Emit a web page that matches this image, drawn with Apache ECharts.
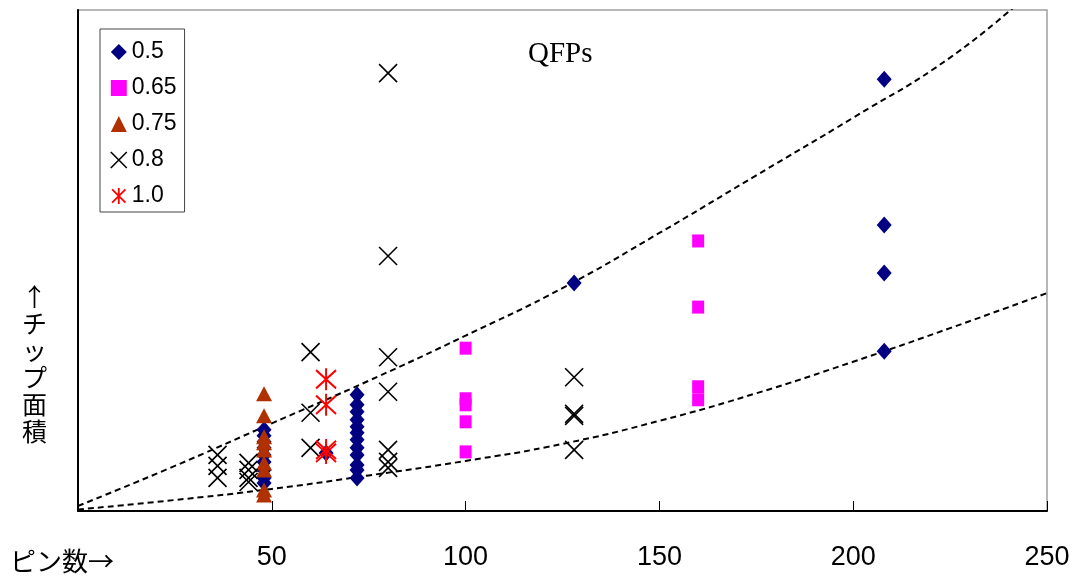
<!DOCTYPE html>
<html>
<head>
<meta charset="utf-8">
<script src="https://cdn.jsdelivr.net/npm/echarts@6/dist/echarts.min.js"></script>
<style>html,body{margin:0;padding:0;background:#fff}#c{width:1075px;height:582px}</style>
</head>
<body>
<div id="c"></div>
<script>
// ---- data (x = pin count, y = relative chip area) ----
const xTicks = [50, 100, 150, 200, 250];
const seriesNames = ['0.5', '0.65', '0.75', '0.8', '1.0'];

const pitch05 = [
  [48,16.2],[48,15.0],[48,13.8],[48,12.6],[48,11.2],[48,9.8],[48,8.2],[48,6.6],[48,5.6],
  [64,11.6],
  [72,23.2],[72,21.2],[72,19.8],[72,18.2],[72,16.8],[72,15.6],[72,14.2],[72,12.6],[72,11.2],[72,9.2],[72,8.2],[72,6.6],
  [128,45.5],
  [208,86.2],[208,57.1],[208,47.5],[208,31.9]
];
const pitch065 = [
  [100,32.5],[100,22.4],[100,21.2],[100,17.8],[100,11.8],
  [160,53.9],[160,40.7],[160,24.8],[160,22.2]
];
const pitch075 = [
  [48,23.4],[48,19.0],[48,14.8],[48,13.6],[48,12.2],[48,9.6],[48,8.2],[48,4.2],[48,3.2]
];
const pitch08 = [
  [36,11.2],[36,9.0],[36,6.6],
  [44,9.6],[44,8.2],[44,6.6],[44,5.8],
  [60,31.7],[60,19.6],[60,12.6],
  [80,87.4],[80,50.9],[80,30.7],[80,23.8],[80,12.2],[80,9.8],[80,8.6],
  [128,26.7],[128,19.4],[128,19.0],[128,12.2]
];
const pitch10 = [
  [64,26.3],[64,21.2],[64,12.2],[64,11.6]
];
// dashed guide curves
const upperCurve = [[0,1],[25,9],[50,17.5],[75,26],[100,35],[125,44.5],[150,55.5],[175,67],[200,78.5],[225,90.5],[245,103]];
const lowerCurve = [[0,0.3],[25,2.2],[50,4.4],[75,7.1],[100,10],[125,13.4],[150,18],[175,23.5],[200,29.8],[225,36.5],[250,43.5]];

// ---- chart ----
const X_PATH = 'path://M0,0L20,20M20,0L0,20';
const AST_PATH = 'path://M0,0L20,20M20,0L0,20M10,-2L10,22';

const chart = echarts.init(document.getElementById('c'), null, {renderer: 'canvas'});

const dashStyle = {color: '#000', width: 2, type: [6, 4]};

chart.setOption({
  animation: false,
  backgroundColor: '#fff',
  grid: {left: 78, right: 28, top: 10, bottom: 71, show: true, borderColor: '#a0a0a0', borderWidth: 1.5, backgroundColor: 'transparent'},
  xAxis: {
    type: 'value', min: 0, max: 250, interval: 50,
    axisLine: {show: true, onZero: false, lineStyle: {color: '#000', width: 2}},
    axisTick: {show: true, inside: true, length: 10, lineStyle: {color: '#000', width: 1}},
    splitLine: {show: false},
    axisLabel: {
      showMinLabel: false, margin: 33, color: '#000', fontSize: 27,
      fontFamily: 'Liberation Sans, Arial, sans-serif',
      formatter: function (v) { return xTicks.indexOf(v) >= 0 ? String(v) : ''; }
    }
  },
  yAxis: {
    type: 'value', min: 0, max: 100,
    axisLine: {show: true, onZero: false, lineStyle: {color: '#000', width: 2}},
    axisTick: {show: false}, axisLabel: {show: false}, splitLine: {show: false}
  },
  legend: {
    orient: 'vertical', left: 100, top: 29,
    padding: [11, 8, 4, 10], itemGap: 12,
    itemWidth: 16, itemHeight: 16,
    borderColor: '#444', borderWidth: 1, backgroundColor: '#fff',
    textStyle: {fontSize: 23, lineHeight: 24, color: '#000', fontFamily: 'Liberation Sans, Arial, sans-serif'},
    data: [
      {name: '0.5', icon: 'diamond', itemStyle: {color: '#000080'}},
      {name: '0.65', icon: 'rect', itemStyle: {color: '#ff00ff'}},
      {name: '0.75', icon: 'triangle', itemStyle: {color: '#b03000'}},
      {name: '0.8', icon: X_PATH, itemStyle: {color: 'transparent', borderColor: '#000', borderWidth: 1.6}},
      {name: '1.0', icon: AST_PATH, itemStyle: {color: 'transparent', borderColor: '#ff0000', borderWidth: 1.8}}
    ]
  },
  graphic: [
    {type: 'text', left: 528, top: 40, style: {text: 'QFPs', font: '29px "Liberation Serif", "Times New Roman", serif', fill: '#000'}},
    {type: 'text', left: 10, top: 548, style: {text: 'ピン数→', font: '26px "Noto Sans CJK JP", sans-serif', fill: '#000'}},
    {type: 'text', left: 22, top: 283, style: {text: '↑\nチ\nッ\nプ\n面\n積', font: '25px "Noto Sans CJK JP", sans-serif', lineHeight: 27, align: 'center', fill: '#000'}}
  ],
  series: [
    {type: 'line', data: upperCurve, smooth: true, showSymbol: false, symbol: 'none', lineStyle: dashStyle, z: 1, silent: true},
    {type: 'line', data: lowerCurve, smooth: true, showSymbol: false, symbol: 'none', lineStyle: dashStyle, z: 1, silent: true},
    {name: '0.5', type: 'scatter', data: pitch05, symbol: 'diamond', symbolSize: [15, 17], itemStyle: {color: '#000080', opacity: 1}, z: 3},
    {name: '0.65', type: 'scatter', data: pitch065, symbol: 'rect', symbolSize: [12, 13], itemStyle: {color: '#ff00ff', opacity: 1}, z: 3},
    {name: '0.75', type: 'scatter', data: pitch075, symbol: 'triangle', symbolSize: [16, 15], itemStyle: {color: '#b03000', opacity: 1}, z: 3},
    {name: '0.8', type: 'scatter', data: pitch08, symbol: X_PATH, symbolSize: 18, itemStyle: {color: 'transparent', borderColor: '#000', borderWidth: 1.6, opacity: 1}, z: 3},
    {name: '1.0', type: 'scatter', data: pitch10, symbol: AST_PATH, symbolSize: [20, 22], itemStyle: {color: 'transparent', borderColor: '#ff0000', borderWidth: 2, opacity: 1}, z: 3}
  ]
});
</script>
</body>
</html>
